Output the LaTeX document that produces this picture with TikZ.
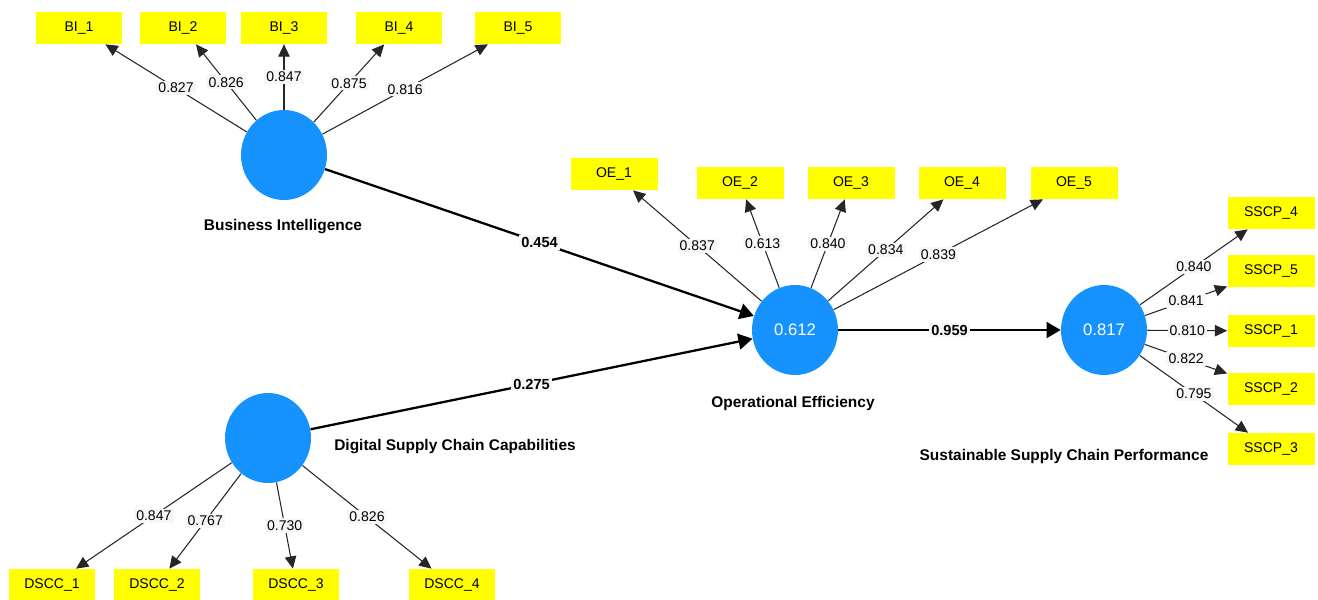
\documentclass[tikz,border=0pt]{standalone}
\usepackage{fontspec}
\setmainfont{Liberation Sans}
\usetikzlibrary{arrows.meta, shapes.geometric}
\definecolor{plsBlue}{RGB}{22,146,255}
\definecolor{plsYellow}{RGB}{255,255,0}
\definecolor{plsTag}{RGB}{247,247,247}

\begin{document}
\begin{tikzpicture}[x=0.02cm, y=-0.02cm,
    latent/.style={ellipse, fill=plsBlue, minimum width=1.72cm, minimum height=1.8cm, inner sep=0pt, text=white, font=\fontsize{9.5}{10}\selectfont},
    ind/.style={fill=plsYellow, minimum width=1.74cm, minimum height=0.64cm, inner sep=0pt, font=\fontsize{8}{9}\selectfont},
    lvname/.style={font=\fontsize{8.8}{10}\selectfont\bfseries},
    load/.style={draw=black!85, line width=0.6pt, -{Triangle[length=7pt, width=6.5pt]}},
    struct/.style={draw=black, line width=1.3pt, -{Triangle[length=8pt, width=9pt]}},
    wt/.style={fill=plsTag, inner sep=1.2pt, font=\fontsize{8}{9}\selectfont},
    beta/.style={fill=plsTag, inner sep=1.2pt, font=\fontsize{8.3}{9}\selectfont\bfseries}]
        \fill[white] (0,0) rectangle (1318,599);
        \useasboundingbox (0,0) rectangle (1318,599);

        \node[latent] (bi) at (284,155) {};
        \node[latent] (oe) at (795,330) {0.612};
        \node[latent] (ss) at (1104,330) {0.817};
        \node[latent] (ds) at (268,438) {};

        \node[lvname] (bilbl) at (283,227) {Business Intelligence};
        \node[lvname] (oelbl) at (793,403) {Operational Efficiency};
        \node[lvname] (dslbl) at (455,447) {Digital Supply Chain Capabilities};
        \node[lvname] (sslbl) at (1064,456) {Sustainable Supply Chain Performance};

        \node[ind] (bi1) at (79,28) {BI\_1};
        \node[ind] (bi2) at (183,28) {BI\_2};
        \node[ind] (bi3) at (284,28) {BI\_3};
        \node[ind] (bi4) at (399,28) {BI\_4};
        \node[ind] (bi5) at (518,28) {BI\_5};

        \node[ind] (oe1) at (614,174) {OE\_1};
        \node[ind] (oe2) at (740,183) {OE\_2};
        \node[ind] (oe3) at (851,183) {OE\_3};
        \node[ind] (oe4) at (962,183) {OE\_4};
        \node[ind] (oe5) at (1074,183) {OE\_5};

        \node[ind] (ss4) at (1271,213) {SSCP\_4};
        \node[ind] (ss5) at (1271,271) {SSCP\_5};
        \node[ind] (ss1) at (1271,331) {SSCP\_1};
        \node[ind] (ss2) at (1271,389) {SSCP\_2};
        \node[ind] (ss3) at (1271,449) {SSCP\_3};

        \node[ind] (ds1) at (52,585) {DSCC\_1};
        \node[ind] (ds2) at (157,585) {DSCC\_2};
        \node[ind] (ds3) at (296,585) {DSCC\_3};
        \node[ind] (ds4) at (452,585) {DSCC\_4};

        \draw[load] (bi) -- node[wt] {0.827} (bi1);
        \draw[load] (bi) -- node[wt] {0.826} (bi2);
        \draw[load] (bi) -- node[wt] {0.847} (bi3);
        \draw[load] (bi) -- node[wt] {0.875} (bi4);
        \draw[load] (bi) -- node[wt] {0.816} (bi5);

        \draw[load] (oe) -- node[wt] {0.837} (oe1);
        \draw[load] (oe) -- node[wt] {0.613} (oe2);
        \draw[load] (oe) -- node[wt] {0.840} (oe3);
        \draw[load] (oe) -- node[wt] {0.834} (oe4);
        \draw[load] (oe) -- node[wt] {0.839} (oe5);

        \draw[load] (ss) -- node[wt] {0.840} (ss4);
        \draw[load] (ss) -- node[wt] {0.841} (ss5);
        \draw[load] (ss) -- node[wt] {0.810} (ss1);
        \draw[load] (ss) -- node[wt] {0.822} (ss2);
        \draw[load] (ss) -- node[wt] {0.795} (ss3);

        \draw[load] (ds) -- node[wt] {0.847} (ds1);
        \draw[load] (ds) -- node[wt] {0.767} (ds2);
        \draw[load] (ds) -- node[wt] {0.730} (ds3);
        \draw[load] (ds) -- node[wt] {0.826} (ds4);

        \draw[struct] (bi) -- node[beta] {0.454} (oe);
        \draw[struct] (ds) -- node[beta] {0.275} (oe);
        \draw[struct] (oe) -- node[beta] {0.959} (ss);
      \end{tikzpicture}
\end{document}
